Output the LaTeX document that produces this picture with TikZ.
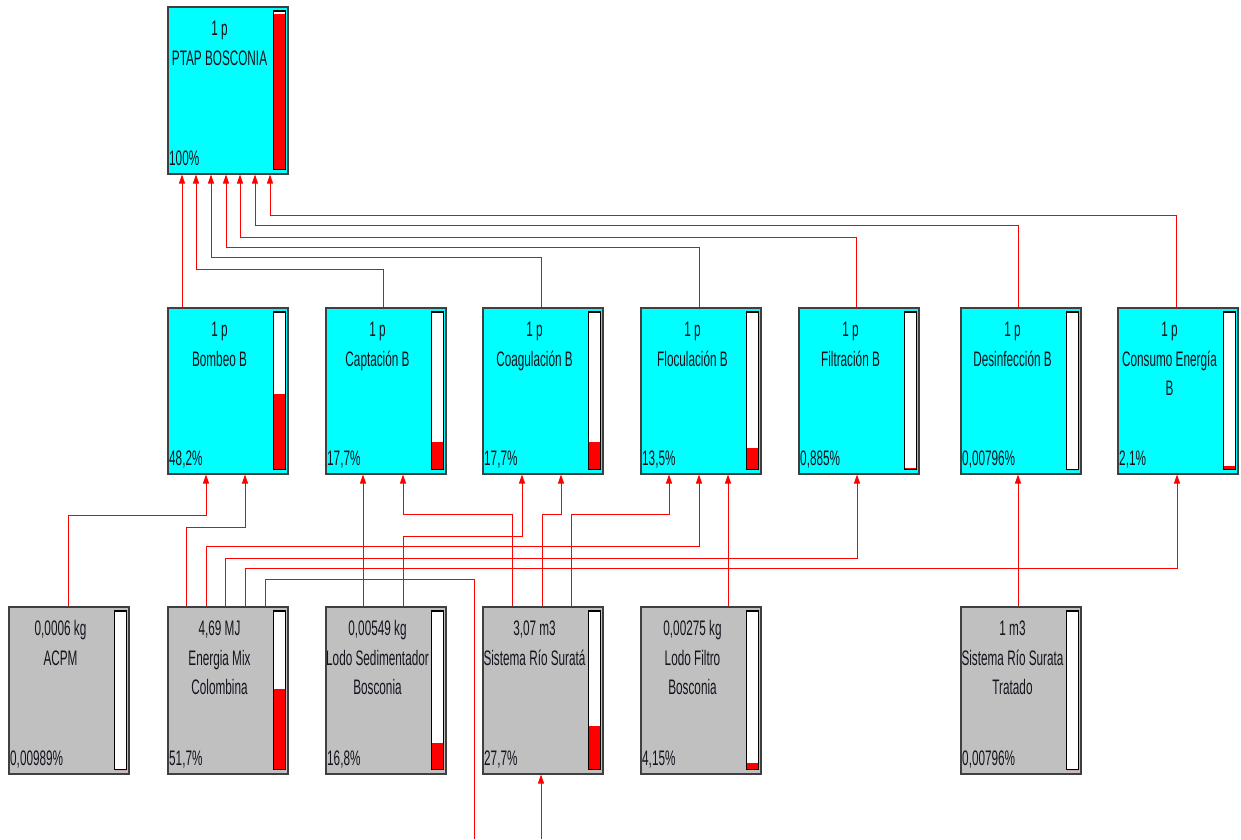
\documentclass[tikz,border=0pt]{standalone}
\usepackage{fontspec}
\setmainfont{Liberation Sans}[FakeStretch=0.56]
\usetikzlibrary{calc,arrows.meta}
\definecolor{boxcyan}{RGB}{0,255,255}
\definecolor{boxgray}{RGB}{192,192,192}
\definecolor{linered}{RGB}{255,0,0}
\definecolor{txtcol}{RGB}{20,20,30}
\tikzset{
  procbox/.style={draw=black!75, line width=1.5pt, fill=boxcyan, minimum width=120pt, minimum height=166pt, inner sep=0pt, anchor=north west},
  srcbox/.style={procbox, fill=boxgray, minimum height=167pt},
  txt/.style={inner sep=0pt, font=\fontsize{21pt}{29pt}\selectfont, text=txtcol},
  conn/.style={draw=linered, line width=1pt},
  arr/.style={conn, -{Triangle[length=9pt,width=6pt]}},
}
\newcommand\boxbar[2]{%
  \fill[white] ($(#1.north east)+(-15,5)$) rectangle ($(#1.south east)+(-3,-5)$);
  \fill[linered] ($(#1.south east)+(-15,-5)$) rectangle ($(#1.south east)+(-3,{-5-156*#2})$);
  \draw[black, line width=1.2pt] ($(#1.north east)+(-15,5)$) rectangle ($(#1.south east)+(-3,-5)$);
}
\newcommand\boxlines[4]{%
  \node[txt,anchor=base] (#1-a) at ($(#1.north west)+(52.5,29)$) {#2};
  \node[txt,anchor=base] (#1-b) at ($(#1.north west)+(52.5,59)$) {#3};
  \node[txt,anchor=base west] (#1-p) at ($(#1.south west)+(2,-9.5)$) {#4};
}
\newcommand\thirdline[2]{%
  \node[txt,anchor=base] (#1-c) at ($(#1.north west)+(52.5,88)$) {#2};
}
\begin{document}
\begin{tikzpicture}[x=1pt,y=-1pt]
\useasboundingbox (0,0) rectangle (1241,839);
% top
\node[procbox, minimum height=167pt] (ptap) at (167,6) {};
% middle row
\node[procbox] (bombeo) at (167,307) {};
\node[procbox] (captacion) at (325,307) {};
\node[procbox] (coagulacion) at (482,307) {};
\node[procbox] (floculacion) at (640,307) {};
\node[procbox] (filtracion) at (798,307) {};
\node[procbox] (desinfeccion) at (960,307) {};
\node[procbox] (consumo) at (1117,307) {};
% bottom row
\node[srcbox] (acpm) at (8,606) {};
\node[srcbox] (energia) at (167,606) {};
\node[srcbox] (lodosed) at (325,606) {};
\node[srcbox] (sistema) at (482,606) {};
\node[srcbox] (lodofiltro) at (640,606) {};
\node[srcbox] (tratado) at (960,606) {};
\coordinate (offA) at (474,839);
\coordinate (offB) at (541,839);

% bars
\boxbar{ptap}{1}
\boxbar{bombeo}{0.482}
\boxbar{captacion}{0.177}
\boxbar{coagulacion}{0.177}
\boxbar{floculacion}{0.135}
\boxbar{filtracion}{0.00885}
\boxbar{desinfeccion}{0}
\boxbar{consumo}{0.021}
\boxbar{acpm}{0}
\boxbar{energia}{0.517}
\boxbar{lodosed}{0.168}
\boxbar{sistema}{0.277}
\boxbar{lodofiltro}{0.0415}
\boxbar{tratado}{0}

% texts
\boxlines{ptap}{1 p}{PTAP BOSCONIA}{100\%}
\boxlines{bombeo}{1 p}{Bombeo B}{48,2\%}
\boxlines{captacion}{1 p}{Captación B}{17,7\%}
\boxlines{coagulacion}{1 p}{Coagulación B}{17,7\%}
\boxlines{floculacion}{1 p}{Floculación B}{13,5\%}
\boxlines{filtracion}{1 p}{Filtración B}{0,885\%}
\boxlines{desinfeccion}{1 p}{Desinfección B}{0,00796\%}
\boxlines{consumo}{1 p}{Consumo Energía}{2,1\%}
\thirdline{consumo}{B}
\boxlines{acpm}{0,0006 kg}{ACPM}{0,00989\%}
\boxlines{energia}{4,69 MJ}{Energia Mix}{51,7\%}
\thirdline{energia}{Colombina}
\boxlines{lodosed}{0,00549 kg}{Lodo Sedimentador}{16,8\%}
\thirdline{lodosed}{Bosconia}
\boxlines{sistema}{3,07 m3}{Sistema Río Suratá}{27,7\%}
\boxlines{lodofiltro}{0,00275 kg}{Lodo Filtro}{4,15\%}
\thirdline{lodofiltro}{Bosconia}
\boxlines{tratado}{1 m3}{Sistema Río Surata}{0,00796\%}
\thirdline{tratado}{Tratado}

% connectors: middle row -> PTAP
\draw[arr] ($(bombeo.north west)+(15,0)$) -- ($(ptap.south west)+(15,0)$);
\draw[arr] ($(captacion.north west)+(58,0)$) -- ++(0,-38) -| ($(ptap.south west)+(29,0)$);
\draw[arr] ($(coagulacion.north west)+(59,0)$) -- ++(0,-50) -| ($(ptap.south west)+(44,0)$);
\draw[arr] ($(floculacion.north west)+(59,0)$) -- ++(0,-60) -| ($(ptap.south west)+(59,0)$);
\draw[arr] ($(filtracion.north west)+(58,0)$) -- ++(0,-70) -| ($(ptap.south west)+(73,0)$);
\draw[arr] ($(desinfeccion.north west)+(58,0)$) -- ++(0,-82) -| ($(ptap.south west)+(88,0)$);
\draw[arr] ($(consumo.north west)+(59,0)$) -- ++(0,-92) -| ($(ptap.south west)+(103,0)$);

% connectors: bottom row -> middle row
\draw[arr] ($(acpm.north west)+(60,0)$) -- ++(0,-91) -| ($(bombeo.south west)+(39,0)$);
\draw[arr] ($(energia.north west)+(19,0)$) -- ++(0,-79) -| ($(bombeo.south west)+(78,0)$);
\draw[arr] ($(energia.north west)+(39,0)$) -- ++(0,-60) -| ($(floculacion.south west)+(59,0)$);
\draw[arr] ($(energia.north west)+(58,0)$) -- ++(0,-48) -| ($(filtracion.south west)+(59,0)$);
\draw[arr] ($(energia.north west)+(78,0)$) -- ++(0,-38) -| ($(consumo.south west)+(60,0)$);
\draw[conn] ($(energia.north west)+(98,0)$) -- ++(0,-27) -| (offA);
\draw[arr] ($(lodosed.north west)+(38,0)$) -- ($(captacion.south west)+(38,0)$);
\draw[arr] ($(lodosed.north west)+(78,0)$) -- ++(0,-70) -| ($(coagulacion.south west)+(40,0)$);
\draw[arr] ($(sistema.north west)+(30,0)$) -- ++(0,-92) -| ($(captacion.south west)+(78,0)$);
\draw[arr] ($(sistema.north west)+(60,0)$) -- ++(0,-92) -| ($(coagulacion.south west)+(79,0)$);
\draw[arr] ($(sistema.north west)+(89,0)$) -- ++(0,-92) -| ($(floculacion.south west)+(29,0)$);
\draw[arr] ($(lodofiltro.north west)+(88,0)$) -- ($(floculacion.south west)+(88,0)$);
\draw[arr] ($(tratado.north west)+(58,0)$) -- ($(desinfeccion.south west)+(58,0)$);
\draw[arr] (offB) -- ($(sistema.south west)+(59,0)$);
\end{tikzpicture}
\end{document}
